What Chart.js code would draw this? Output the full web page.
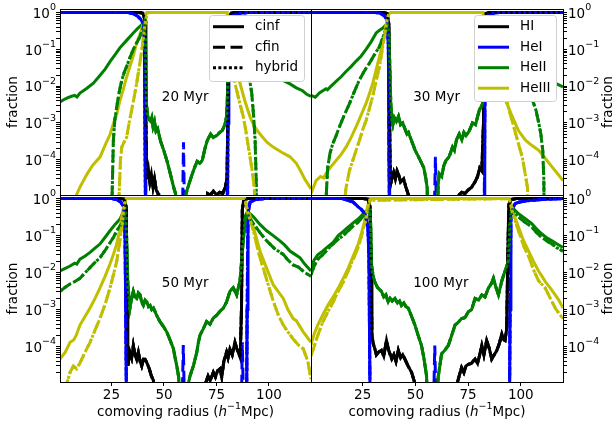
<!DOCTYPE html>
<html>
<head>
<meta charset="utf-8">
<title>Ionization fractions</title>
<script src="https://cdn.jsdelivr.net/npm/chart.js@4"></script>
<style>
  html, body { margin: 0; padding: 0; background: #fff; }
  #wrap { position: relative; width: 614px; height: 422px; }
  #wrap canvas { position: absolute; left: 0; top: 0; }
</style>
</head>
<body>
<div id="wrap">
  <canvas id="c20" width="614" height="422"></canvas>
  <canvas id="c30" width="614" height="422"></canvas>
  <canvas id="c50" width="614" height="422"></canvas>
  <canvas id="c100" width="614" height="422"></canvas>
</div>
<script>
// labels and ticks
const methodLabels = ["cinf", "cfin", "hybrid"];
const speciesLabels = ["HI", "HeI", "HeII", "HeIII"];
const panelTimes = ["20 Myr", "30 Myr", "50 Myr", "100 Myr"];
const xTickValues = [25, 50, 75, 100];
const yTickValues = [1e-4, 1e-3, 1e-2, 1e-1, 1];
const yTickExponents = ["−4", "−3", "−2", "−1", "0"];

// ---- 20 Myr ----  [radius, fraction]
const hi20 = [[0.5,1],[38,1],[40,0.97],[41,0.6],[41.4,1e-3],[41.8,3e-5],[42.6,5.5e-5],[43.3,2.5e-5],[44,4e-5],[44.8,1.8e-5],[45.5,3e-5],[46.3,1.5e-5],[47.2,1.2e-5],[47.6,1e-6],[70.4,1e-6],[70.8,1.2e-5],[72,1.1e-5],[73.5,1.4e-5],[75,1.1e-5],[76.5,1.3e-5],[78,1.2e-5],[79.2,1.8e-5],[80,3e-5],[80.4,1e-3],[80.8,0.7],[82,0.98],[84,1],[120,1]];
const hei20 = [[0.5,1],[33,1],[35.5,0.93],[37.5,0.8],[39,0.65],[40.2,0.5],[40.7,0.1],[41,1e-4],[41.3,1e-6],[80.2,1e-6],[80.5,1e-3],[80.9,0.4],[82,0.75],[84,0.9],[87,0.97],[90,1],[120,1]];
const hei20Fin = [[0.5,1],[33,1],[35.5,0.93],[37.5,0.8],[39,0.65],[40.2,0.5],[40.9,0.1],[41.2,1e-4],[41.5,1e-6],[58.7,1e-6],[59.3,3e-4],[59.9,1e-6],[80,1e-6],[80.3,1e-3],[80.7,0.4],[82,0.75],[84,0.9],[87,0.97],[90,1],[120,1]];
const heii20L = [[0.5,3.7e-3],[2,4.2e-3],[4,4.8e-3],[6,5.3e-3],[7.5,5.6e-3],[8.6,5.1e-3],[10,6.5e-3],[13,8.5e-3],[16.4,1.2e-2],[19,1.8e-2],[22,2.9e-2],[24.4,4.7e-2],[27,7.5e-2],[29,0.11],[32,0.17],[35.4,0.28],[37.5,0.37],[39.5,0.47],[40.6,0.6]];
const heii20FinL = [[0.5,1e-6],[25,1e-6],[25.3,1e-5],[25.9,3.3e-4],[26.6,1.2e-3],[27.5,2.7e-3],[28.7,7e-3],[29.9,1.45e-2],[31,2.3e-2],[32.2,3.4e-2],[33.8,6e-2],[35.4,0.1],[37,0.15],[38.6,0.22],[39.8,0.35],[40.6,0.5]];
const heii20In = [[41.2,0.2],[41.7,3e-3],[42.3,1.5e-3],[43,1.2e-3],[43.6,1.1e-3],[44.2,1.4e-3],[44.8,8e-4],[45.5,1.1e-3],[46.2,6e-4],[47,7e-4],[48.3,3.3e-4],[49.9,1.8e-4],[51.5,9e-5],[53.1,4e-5],[54.7,1.7e-5],[55.5,1.2e-5],[56.2,1e-6],[60,1e-6],[60.5,1.2e-5],[61.8,2.1e-5],[63.4,4e-5],[64.5,6e-5],[65.8,9e-5],[67,8e-5],[68.2,9.5e-5],[69.5,2e-4],[70.6,3.3e-4],[72.2,5e-4],[73.5,4e-4],[75.4,4.7e-4],[76.5,5.5e-4],[77.8,6.3e-4],[79,9e-4],[79.8,1.5e-3],[80.2,5e-3],[80.6,0.1]];
const heii20R = [[81.1,0.45],[83,0.4],[86,0.27],[90,0.16],[94,9e-2],[98,4.5e-2],[102,2.6e-2],[106,1.5e-2],[110,1.15e-2],[113,9e-3],[116,7.5e-3],[118,6e-3],[120,5.3e-3]];
const heii20FinR = [[81.1,0.4],[83,0.3],[85,0.17],[87,8e-2],[89.4,4.3e-2],[90.8,1.5e-2],[91.8,6.3e-3],[92.7,1.5e-3],[93.4,3.3e-4],[93.9,3e-5],[94.2,1e-6],[120,1e-6]];
const heiii20L = [[0.5,1e-6],[7.5,1e-6],[8,1e-5],[10,1.8e-5],[13.3,4e-5],[16,7e-5],[19.6,1.2e-4],[22,2.5e-4],[24.4,5e-4],[26,1e-3],[27.6,1.8e-3],[29,4e-3],[30.6,8e-3],[32,1.6e-2],[33.8,3.4e-2],[35.5,7e-2],[37,0.15],[39,0.3],[40.5,0.6],[41.5,0.95],[42.5,1]];
const heiii20R = [[80,1],[81,0.5],[82.5,0.1],[84,3e-2],[86.2,1.2e-2],[88.5,4e-3],[91,1.45e-3],[93,8e-4],[95.7,5e-4],[99,3e-4],[102,2.2e-4],[106,1.6e-4],[110,1.2e-4],[113,8e-5],[115,5e-5],[117,3e-5],[119.5,1.8e-5],[120,1.6e-5]];
const heiii20FinL = [[0.5,1e-6],[28.2,1e-6],[28.6,1e-5],[29.3,1e-4],[29.9,2.2e-4],[31,3e-4],[32.2,4e-4],[33.4,1e-3],[34.6,2.2e-3],[35.8,5e-3],[37,1.2e-2],[38.3,3.5e-2],[39.5,0.1],[40.5,0.3],[41.4,0.65],[42,1]];
const heiii20FinR = [[80,1],[80.8,0.5],[82,0.1],[83.8,1.2e-2],[85.8,4e-3],[87.8,1.45e-3],[89,6e-4],[90.2,2.2e-4],[91.8,6e-5],[93,1.8e-5],[93.6,1e-6],[120,1e-6]];

// ---- 30 Myr ----
const hi30 = [[0.5,1],[35,1],[36.5,0.95],[37.4,0.5],[37.8,1e-3],[38.1,2e-5],[38.8,3e-5],[39.7,4.5e-5],[40.5,3e-5],[41.3,5e-5],[42,4e-5],[43,2.5e-5],[44.4,3e-5],[45.5,1.8e-5],[46.7,1.1e-5],[47.2,1e-6],[70.2,1e-6],[70.6,1.1e-5],[72,1.3e-5],[73.5,1.2e-5],[75,1.5e-5],[76.7,1.8e-5],[78.3,2.5e-5],[79.5,3.5e-5],[80.5,6e-5],[81.5,5e-5],[82.3,1e-3],[82.8,0.5],[83.5,0.95],[85,1],[120,1]];
const hei30 = [[0.5,1],[31,1],[33.5,0.95],[35.5,0.8],[36.8,0.6],[37.2,0.1],[37.5,1e-4],[37.8,1e-6],[82.6,1e-6],[82.9,1e-3],[83.2,0.5],[84.5,0.85],[87,0.97],[90,1],[120,1]];
const hei30Fin = [[0.5,1],[31,1],[33.5,0.95],[35.5,0.8],[36.8,0.6],[37.2,0.1],[37.5,1e-4],[37.8,1e-6],[58.8,1e-6],[59.5,1.2e-4],[60.2,1e-6],[82.6,1e-6],[82.9,1e-3],[83.2,0.5],[84.5,0.85],[87,0.97],[90,1],[120,1]];
const heii30L = [[0.5,5.6e-3],[2.5,5e-3],[4.5,6.5e-3],[6.1,7.5e-3],[7.6,8.5e-3],[8.3,8e-3],[10,1e-2],[12.4,1.35e-2],[14.8,1.8e-2],[17.1,2.5e-2],[19.5,3.4e-2],[21.9,4.8e-2],[24.2,6.5e-2],[26.6,0.1],[29,0.16],[31.4,0.28],[33,0.33],[34.6,0.38],[35.8,0.45],[36.8,0.5]];
const heii30FinL = [[0.5,1e-6],[7.4,1e-6],[7.7,1e-5],[8.4,6e-5],[9.5,1.5e-4],[10.8,2.7e-4],[12.4,4.5e-4],[14,7.9e-4],[16.4,1.7e-3],[18.8,3.4e-3],[21,7e-3],[23.5,1.5e-2],[26,2.7e-2],[28.3,4.3e-2],[30.5,7e-2],[33,0.12],[35.4,0.28],[36.8,0.45]];
const heii30In = [[37.4,0.3],[37.8,5e-2],[38.3,4e-3],[38.8,1.2e-3],[39.3,9e-4],[40,1.4e-3],[41,1.1e-3],[42,1.5e-3],[43,9e-4],[44,1e-3],[45,7e-4],[46,5e-4],[46.7,5.5e-4],[48,3.5e-4],[49.9,1.8e-4],[51.5,1.2e-4],[53,8e-5],[54,6e-5],[55,3e-5],[55.6,1.7e-5],[56,1e-6],[60.3,1e-6],[60.8,2e-5],[61.3,4.2e-5],[62.5,3.5e-5],[63.5,7e-5],[64.5,9.5e-5],[66,1.2e-4],[67.6,2.2e-4],[68.5,1.8e-4],[69.5,3.5e-4],[70.8,5e-4],[72,3.5e-4],[73,5.5e-4],[74,4.5e-4],[75.5,6e-4],[77.1,1e-3],[78.5,9e-4],[80.3,2.2e-3],[81.9,3.4e-3],[82.6,5e-2]];
const heii30R = [[83.2,0.45],[85,0.35],[88,0.25],[92,0.15],[96,9e-2],[100,5.5e-2],[105,3.2e-2],[110,2e-2],[115,1.3e-2],[120,9.5e-3]];
const heii30FinR = [[83.2,0.4],[86,0.28],[90,0.15],[94,7e-2],[98,3e-2],[101,1.4e-2],[104,6.5e-3],[106,3.5e-3],[107.2,2.2e-3],[108.5,1e-3],[109.5,5e-4],[110.4,1.8e-4],[110.9,3e-5],[111.2,1e-6],[120,1e-6]];
const heiii30L = [[0.5,1.2e-5],[2.9,2.7e-5],[5,3.5e-5],[6.5,3.2e-5],[7.6,4.2e-5],[10,6.5e-5],[12.4,9.5e-5],[14.8,1.4e-4],[17.1,2.2e-4],[19.5,4e-4],[21.9,7.9e-4],[24.2,1.6e-3],[26.6,3.4e-3],[28.3,6.5e-3],[29.8,1.2e-2],[31.4,2.8e-2],[33,6.5e-2],[34.3,0.13],[35.4,0.28],[36.5,0.6],[37.5,0.95],[38.5,1]];
const heiii30R = [[82,1],[83.3,0.5],[85,0.12],[87,4e-2],[90,1.2e-2],[92.7,4.3e-3],[95.9,1.5e-3],[99,6e-4],[102.2,3.4e-4],[105,2.5e-4],[108.5,1.8e-4],[111,1.2e-4],[114.9,6.3e-5],[117,4.5e-5],[120,2.7e-5]];
const heiii30FinL = [[0.5,1e-6],[16,1e-6],[16.5,8e-6],[17.1,1.7e-5],[18.7,5e-5],[20.3,9.5e-5],[21.9,1.8e-4],[23.5,3.4e-4],[25,6.5e-4],[26.7,1.2e-3],[28.3,2.6e-3],[29.8,5.4e-3],[31.4,1.4e-2],[33,3.5e-2],[34.3,0.1],[35.4,0.23],[36.5,0.6],[37.5,1]];
const heiii30FinR = [[82,1],[83.3,0.4],[85,0.1],[88,3e-2],[91.3,1e-2],[94.5,2.2e-3],[97.6,5e-4],[100.8,1.1e-4],[103.2,1.7e-5],[103.6,1e-6],[120,1e-6]];

// ---- 50 Myr ----
const hi50 = [[0.5,1],[29,1],[31,0.97],[32,0.6],[32.4,1e-3],[32.8,3e-5],[33.8,7e-5],[34.6,5e-5],[35.4,1.05e-4],[36.2,6e-5],[37,4.5e-5],[37.8,7e-5],[38.6,4e-5],[39.4,3e-5],[40.2,4.5e-5],[41,4.5e-5],[42,3.5e-5],[43,2.5e-5],[44,1.6e-5],[45,1.2e-5],[45.5,1e-6],[69.5,1e-6],[70,1.1e-5],[71,1.6e-5],[72,1.2e-5],[73.5,2e-5],[74.5,1.5e-5],[75.5,2.2e-5],[76.7,2.5e-5],[77.5,1.5e-5],[78.5,4e-5],[79.8,7e-5],[80.5,5e-5],[81.4,8.5e-5],[82.5,6e-5],[83.8,1.3e-4],[84.6,9e-5],[85.4,7e-5],[86.3,5e-5],[86.9,1e-3],[87.3,0.5],[88,0.95],[90,1],[120,1]];
const hei50 = [[0.5,1],[25,1],[27.5,0.95],[29.5,0.8],[30.8,0.6],[31.4,0.2],[31.8,1e-3],[32.2,1e-6],[89.3,1e-6],[89.6,1e-3],[90,0.4],[91,0.8],[94,0.95],[98,1],[120,1]];
const hei50Fin = [[0.5,1],[25,1],[27.5,0.95],[29.5,0.8],[30.8,0.6],[31.4,0.2],[31.8,1e-3],[32.2,1e-6],[58.5,1e-6],[59.2,1.1e-4],[59.9,1e-6],[86.8,1e-6],[87.3,1.3e-4],[88,1e-6],[89.3,1e-6],[89.6,1e-3],[90,0.4],[91,0.8],[94,0.95],[98,1],[120,1]];
const heii50L = [[0.5,1.1e-2],[3,1.3e-2],[5.3,1.5e-2],[7.5,1.8e-2],[8.5,1.7e-2],[10,2.3e-2],[12.5,2.8e-2],[14.8,3.5e-2],[17,4.5e-2],[19.5,5.9e-2],[22,9e-2],[24.3,0.135],[26.7,0.2],[29.1,0.28],[30.7,0.45],[31.6,0.5]];
const heii50FinL = [[0.5,3.1e-3],[3,4e-3],[5.5,5e-3],[7,5.5e-3],[10,7e-3],[12.5,1e-2],[15,1.4e-2],[17.2,1.9e-2],[19.5,2.5e-2],[22,4e-2],[24,6e-2],[25.9,8.9e-2],[28,0.15],[29.9,0.21],[31.2,0.35],[31.6,0.45]];
const heii50In = [[32.2,0.1],[32.8,5e-3],[33.8,1.1e-3],[34.6,2e-3],[35.4,3.1e-3],[36.2,2.2e-3],[37,2e-3],[37.8,2.8e-3],[38.6,2.5e-3],[39.4,1.6e-3],[40.2,1.3e-3],[41,1.8e-3],[41.8,1.6e-3],[42.6,1.2e-3],[43.4,1.3e-3],[44.2,1e-3],[45,1.1e-3],[46.5,7e-4],[48.1,4.7e-4],[49.7,3.5e-4],[51.3,2.5e-4],[52.9,1.5e-4],[54.5,8.7e-5],[55.3,5e-5],[56.1,3e-5],[57,1.5e-5],[57.6,1e-6],[61,1e-6],[61.6,1e-5],[62.4,1.6e-5],[64,3e-5],[65.6,6.9e-5],[66.4,1.3e-4],[67.1,2e-4],[68.7,3e-4],[70.3,4.7e-4],[71.9,4e-4],[73.5,5.9e-4],[75.1,7e-4],[76.7,9e-4],[78.3,1.1e-3],[79.8,1.6e-3],[81.4,3.1e-3],[83,3.9e-3],[84.6,2.5e-3],[86.2,6e-3],[87.5,5e-2]];
const heii50R = [[88.8,0.35],[89.8,0.45],[92.6,0.32],[95.7,0.2],[98.9,0.135],[102,0.1],[105.2,7.2e-2],[107.5,5.5e-2],[110,3.8e-2],[112,3.2e-2],[114.8,2.5e-2],[117,1.7e-2],[120,1.1e-2]];
const heii50FinR = [[88.8,0.3],[89.8,0.35],[92.6,0.21],[95.7,0.12],[98.9,7.2e-2],[102.5,4.5e-2],[106.8,3.1e-2],[109,2.2e-2],[111.5,1.6e-2],[114,1.4e-2],[117,1e-2],[120,8e-3]];
const heiii50L = [[0.5,4.6e-5],[3,7e-5],[5.3,1.3e-4],[7,1.5e-4],[8.2,2e-4],[10,3.8e-4],[12.4,6.5e-4],[14.8,1.1e-3],[17.2,2e-3],[19.5,3.8e-3],[22,8e-3],[24.3,1.7e-2],[26,3.2e-2],[27.5,5.9e-2],[28.8,0.13],[29.9,0.32],[31,0.7],[32,1]];
const heiii50R = [[88.5,1],[90,0.5],[92.6,0.17],[95.7,3.8e-2],[98.9,1.3e-2],[102,4.7e-3],[104.5,3e-3],[106.8,2e-3],[109,1e-3],[111.5,5.7e-4],[113,5e-4],[116.3,2.5e-4],[120,1.3e-4]];
const heiii50FinL = [[0.5,1e-6],[3.2,1e-6],[3.7,1e-5],[5.3,2e-5],[6.9,3e-5],[8.4,2.5e-5],[10,3.6e-5],[12.4,7e-5],[14.8,1.3e-4],[17.2,2.8e-4],[19.5,5.7e-4],[22,1.4e-3],[24.3,3.8e-3],[26,9e-3],[27.5,2e-2],[28.8,6e-2],[29.9,0.17],[31,0.6],[32,1]];
const heiii50FinR = [[88.5,1],[90,0.4],[92.6,0.135],[95,3.5e-2],[97.3,1.3e-2],[99.5,5e-3],[102,1.7e-3],[104.5,7e-4],[106.8,3.8e-4],[109,2.5e-4],[111.5,1.6e-4],[114,1.1e-4],[116.3,8.7e-5],[118.5,4e-5],[120,1.3e-5]];

// ---- 100 Myr ----
const hi100 = [[0.5,1],[25,1],[27.5,0.97],[28.5,0.6],[29,1e-2],[29.4,2e-4],[30,1.2e-4],[30.7,9e-5],[31.5,6e-5],[32.5,7e-5],[33.9,7.8e-5],[35,5.5e-5],[36.3,1.45e-4],[37.3,8e-5],[38.8,4.6e-5],[39.8,6e-5],[40.8,4e-5],[41.9,7.8e-5],[43,5e-5],[44,6e-5],[45,4.6e-5],[46.5,3e-5],[48.2,2e-5],[49.8,1e-5],[50.2,1e-6],[69.5,1e-6],[70,1.1e-5],[71,1.8e-5],[71.9,2.7e-5],[73,2e-5],[74,3e-5],[75.1,3.3e-5],[76.5,3.5e-5],[78.3,4.6e-5],[79.5,3.5e-5],[80.5,6e-5],[81.5,1.07e-4],[82.5,6e-5],[83.8,1.45e-4],[85,9e-5],[86.2,4.6e-5],[87.4,6e-5],[88.6,7.8e-5],[89.8,1.2e-4],[91,2.2e-4],[92,1.5e-4],[92.5,1.45e-4],[93.3,3e-4],[93.8,2e-2],[94.3,0.7],[95.5,0.95],[98,1],[120,1]];
const hei100 = [[0.5,1],[15,1],[18.1,0.9],[20.5,0.8],[22.9,0.6],[24.5,0.5],[26,0.39],[27.5,0.17],[28,2e-2],[28.3,1e-4],[28.6,1e-6],[94.6,1e-6],[94.9,1e-3],[95.3,0.3],[96.5,0.6],[97.3,0.73],[99,0.8],[102,0.86],[105.2,0.9],[110,0.95],[115,0.98],[120,1]];
const hei100Fin = [[0.5,1],[15,1],[18.1,0.9],[20.5,0.8],[22.9,0.6],[24.5,0.5],[26,0.39],[27.5,0.17],[28,2e-2],[28.3,1e-4],[28.6,1e-6],[58.5,1e-6],[59.2,1.07e-4],[59.9,1e-6],[94.6,1e-6],[94.9,1e-3],[95.3,0.3],[96.5,0.6],[97.3,0.73],[99,0.8],[102,0.86],[105.2,0.9],[110,0.95],[115,0.98],[120,1]];
const heii100L = [[0.5,1.4e-2],[2,2.2e-2],[3.7,3e-2],[6,3.8e-2],[8.5,5e-2],[11,6.5e-2],[13.4,0.1],[15.8,0.13],[18.1,0.17],[20.5,0.22],[22.9,0.28],[24.5,0.35],[26,0.43],[27.5,0.5],[28.4,0.5]];
const heii100FinL = [[0.5,8.7e-3],[2,1.5e-2],[3.7,2.3e-2],[6,3e-2],[8.5,4.3e-2],[11,6e-2],[13.4,8e-2],[15.8,0.1],[18.1,0.135],[20.5,0.18],[22.9,0.23],[24.5,0.3],[26,0.37],[27.5,0.45],[28.4,0.48]];
const heii100In = [[28.8,0.2],[29.2,1.6e-2],[30,8e-3],[30.7,5.7e-3],[32,4e-3],[33.9,3.1e-3],[35,2.2e-3],[36,2.5e-3],[37.1,1.6e-3],[38,2e-3],[39,1.7e-3],[40.3,2e-3],[41.5,1.5e-3],[42.5,1.7e-3],[43.4,1.3e-3],[44.5,1.5e-3],[45.5,1.2e-3],[46.6,1.1e-3],[48,7e-4],[49.8,3.8e-4],[51.3,2e-4],[52.9,1.07e-4],[54,5e-5],[55.3,1.6e-5],[55.8,1e-6],[60,1e-6],[60.8,1.5e-5],[61.6,3e-5],[62.4,6.3e-5],[64,8e-5],[65.6,1.07e-4],[67.2,2e-4],[68.8,3.8e-4],[70.3,4.5e-4],[71.9,5.7e-4],[73.5,6e-4],[75.1,8.7e-4],[76.7,1e-3],[78.3,2e-3],[80,1.8e-3],[81.5,2.5e-3],[83,2.2e-3],[84.6,3.8e-3],[86,5e-3],[87,7e-3],[88.2,4e-3],[89.4,2.5e-3],[91,6e-3],[92.5,1.1e-2],[94.1,2e-2],[94.8,0.2]];
const heii100R = [[95.7,0.6],[97,0.5],[98.9,0.39],[102,0.29],[105.2,0.21],[107.5,0.15],[110,0.11],[112.5,8.5e-2],[114.8,7.2e-2],[117,6e-2],[120,4.8e-2]];
const heii100FinR = [[95.7,0.5],[97,0.42],[98.9,0.32],[102,0.23],[105.2,0.17],[107.5,0.12],[110,8.9e-2],[112.5,7e-2],[114.8,5.9e-2],[117,4.7e-2],[120,3.8e-2]];
const heiii100L = [[0.5,1.1e-4],[2,2.2e-4],[3.7,3.8e-4],[6,7e-4],[8.5,1.3e-3],[11,2.2e-3],[13.4,3.8e-3],[15.8,7e-3],[18.1,1.3e-2],[20.5,2.8e-2],[22.9,5.9e-2],[24.5,0.12],[26,0.26],[27.3,0.6],[28.4,1]];
const heiii100R = [[94.5,1],[95.7,0.6],[97.3,0.3],[98.9,0.17],[101,8e-2],[103.7,3.8e-2],[106,2e-2],[108.4,1.1e-2],[110,8e-3],[111.6,5.7e-3],[114,3.8e-3],[116.3,2.5e-3],[118,1.8e-3],[120,1.1e-3]];
const heiii100FinL = [[0.5,5.6e-5],[2,1e-4],[3.7,2e-4],[6,4.5e-4],[8.5,8.7e-4],[11,1.6e-3],[13.4,3.1e-3],[15.8,5.5e-3],[18.1,1.1e-2],[20.5,2.3e-2],[22.9,4.8e-2],[24.5,0.1],[26,0.21],[27.3,0.5],[28.4,0.9]];
const heiii100FinR = [[94.5,1],[95.7,0.5],[97.3,0.25],[98.9,0.135],[101.5,5e-2],[104,2.5e-2],[106,1.2e-2],[108.4,6e-3],[111.6,3.8e-3],[114,2e-3],[116.3,1.1e-3],[118,8e-4],[120,5.7e-4]];

// styles
const FONT_FAMILY = "'DejaVu Sans', 'Liberation Sans', sans-serif";
const FONT_SIZE = 13.5;
const SUP_SIZE = 9.5;
const speciesColors = ["#000000", "#0000ff", "#008000", "#bfbf00"];
const methodDash = [[], [12, 5.5], [3, 2.3]];
const Y_MIN = 1.1e-5, Y_MAX = 1.25;

Chart.defaults.font.family = FONT_FAMILY;
Chart.defaults.font.size = FONT_SIZE;
Chart.defaults.color = "#000";

// all tick marks on the log axis (majors + minors)
const yTickMarks = yTickValues.slice();
for (let k = -5; k <= -1; k++) {
    for (let m = 2; m <= 9; m++) {
        const v = m * Math.pow(10, k);
        if (v > Y_MIN && v < Y_MAX) yTickMarks.push(v);
    }
}

function toPoints(pairs) {
    return pairs.map(p => ({ x: p[0], y: p[1] }));
}

// curves[method][species]
function buildDatasets(curves) {
    const sets = [];
    curves.forEach((row, m) => {
        row.forEach((pairs, s) => {
            sets.push({
                label: methodLabels[m] + " " + speciesLabels[s],
                data: toPoints(pairs),
                borderColor: speciesColors[s],
                borderWidth: 3,
                borderDash: methodDash[m],
                pointRadius: 0,
                tension: 0,
                fill: false,
                clip: 0,
                order: -sets.length
            });
        });
    });
    return sets;
}

function font(size, style) {
    return (style ? style + " " : "") + size + "px " + FONT_FAMILY;
}

// text pieces: {t, italic, sup}; drawn left to right on baseline y
function drawRich(ctx, parts, x, y, align) {
    const widths = parts.map(p => {
        ctx.font = font(p.sup ? SUP_SIZE : FONT_SIZE, p.italic ? "oblique" : "");
        return ctx.measureText(p.t).width;
    });
    const total = widths.reduce((s, w) => s + w, 0);
    let cx = align === "right" ? x - total : align === "center" ? x - total / 2 : x;
    ctx.textAlign = "left";
    ctx.textBaseline = "alphabetic";
    parts.forEach((p, i) => {
        ctx.font = font(p.sup ? SUP_SIZE : FONT_SIZE, p.italic ? "oblique" : "");
        ctx.fillText(p.t, cx, p.sup ? y - p.sup : y);
        cx += widths[i];
    });
}

function roundRectPath(ctx, x, y, w, h, r) {
    ctx.beginPath();
    ctx.moveTo(x + r, y);
    ctx.arcTo(x + w, y, x + w, y + h, r);
    ctx.arcTo(x + w, y + h, x, y + h, r);
    ctx.arcTo(x, y + h, x, y, r);
    ctx.arcTo(x, y, x + w, y, r);
    ctx.closePath();
}

function drawLegend(ctx, area, items) {
    ctx.font = font(FONT_SIZE);
    const textW = Math.max(...items.map(it => ctx.measureText(it.label).width));
    const w = 46 + textW + 6;
    const h = 4 + items.length * 20.6;
    const x0 = Math.round(area.right - 7 - w);
    const y0 = Math.round(area.top + 6);
    roundRectPath(ctx, x0 + 0.5, y0 + 0.5, Math.round(w), Math.round(h), 3);
    ctx.globalAlpha = 1;
    ctx.fillStyle = "#ffffff";
    ctx.fill();
    ctx.strokeStyle = "#d0d0d0";
    ctx.lineWidth = 1;
    ctx.stroke();
    items.forEach((it, i) => {
        const y = y0 + 11.7 + i * 20.5;
        ctx.beginPath();
        ctx.setLineDash(it.dash);
        ctx.strokeStyle = it.color;
        ctx.lineWidth = 3;
        ctx.moveTo(x0 + 4, y);
        ctx.lineTo(x0 + 35, y);
        ctx.stroke();
        ctx.setLineDash([]);
        ctx.fillStyle = "#000";
        ctx.font = font(FONT_SIZE);
        ctx.textAlign = "left";
        ctx.textBaseline = "middle";
        ctx.fillText(it.label, x0 + 46, y);
    });
}

// frame, tick labels, time label, legend and axis titles
const panelDeco = {
    id: "panelDeco",
    afterDraw(chart, args, opts) {
        const { ctx, chartArea: a, scales } = chart;
        ctx.save();
        ctx.setLineDash([]);
        ctx.strokeStyle = "#000";
        ctx.lineWidth = 1;
        ctx.strokeRect(Math.round(a.left) + 0.5, Math.round(a.top) + 0.5,
            Math.round(a.right - a.left), Math.round(a.bottom - a.top));

        ctx.fillStyle = "#000";
        // y tick labels as 10^n
        yTickValues.forEach((v, i) => {
            const py = scales.y.getPixelForValue(v);
            const parts = [{ t: "10" }, { t: yTickExponents[i], sup: 7.5 }];
            if (opts.rightAxis) drawRich(ctx, parts, a.right + 5, py + 5.3, "left");
            else drawRich(ctx, parts, a.left - 4, py + 5.3, "right");
        });

        // x axis title
        if (opts.xTitle) {
            drawRich(ctx, [
                { t: "comoving radius (" }, { t: "h", italic: true },
                { t: "−1", sup: 7 }, { t: "Mpc)" }
            ], (a.left + a.right) / 2, 416, "center");
        }

        ctx.font = font(FONT_SIZE);
        ctx.textAlign = "left";
        ctx.textBaseline = "middle";
        ctx.fillText(opts.label, scales.x.getPixelForValue(49), scales.y.getPixelForValue(5e-3));

        if (opts.rightAxis) {
            ctx.save();
            ctx.translate(a.right + 45, (a.top + a.bottom) / 2);
            ctx.rotate(-Math.PI / 2);
            ctx.textAlign = "center";
            ctx.fillText("fraction", 0, 0);
            ctx.restore();
        }
        if (opts.legend) drawLegend(ctx, a, opts.legend);
        ctx.restore();
    }
};

function yAxis(position) {
    return {
        type: "logarithmic",
        position: position,
        min: Y_MIN,
        max: Y_MAX,
        bounds: "data",
        afterBuildTicks: s => { s.ticks = yTickMarks.map(v => ({ value: v })); },
        afterFit: s => {
            s.width = position === "left" ? 60 : 51;
            s.paddingTop = 0;
            s.paddingBottom = 0;
        },
        ticks: { autoSkip: false, padding: 2, callback: () => "" },
        grid: { drawOnChartArea: false, tickLength: 4, color: "#000" },
        border: { display: false },
        title: {
            display: position === "left",
            text: "fraction",
            padding: { top: 5, bottom: 0 }
        }
    };
}

function xAxis(show) {
    return {
        type: "linear",
        min: 0.5,
        max: 120,
        bounds: "data",
        display: show,
        afterBuildTicks: s => { s.ticks = xTickValues.map(v => ({ value: v })); },
        afterFit: s => {
            s.height = show ? 40 : 0;
            s.paddingLeft = 0;
            s.paddingRight = 0;
        },
        ticks: { autoSkip: false, maxRotation: 0, padding: 1, callback: v => String(v) },
        grid: { drawOnChartArea: false, tickLength: 4, color: "#000" },
        border: { display: false },
        title: { display: false }
    };
}

const methodLegend = methodLabels.map((l, i) => ({ label: l, color: "#000", dash: methodDash[i] }));
const speciesLegend = speciesLabels.map((l, i) => ({ label: l, color: speciesColors[i], dash: [] }));

const panels = [
    {
        id: "c20", label: panelTimes[0], yPos: "left", xShow: false, legend: methodLegend,
        pad: { left: 0, top: 9, right: 303, bottom: 227 },
        curves: [
            [hi20, hei20, [...heii20L, ...heii20In, ...heii20R], [...heiii20L, ...heiii20R]],
            [hi20, hei20Fin, [...heii20FinL, ...heii20In, ...heii20FinR], [...heiii20FinL, ...heiii20FinR]],
            [hi20, hei20, [...heii20FinL, ...heii20In, ...heii20FinR], [...heiii20FinL, ...heiii20FinR]]
        ]
    },
    {
        id: "c30", label: panelTimes[1], yPos: "right", xShow: false, legend: speciesLegend,
        pad: { left: 311, top: 9, right: 0, bottom: 227 },
        curves: [
            [hi30, hei30, [...heii30L, ...heii30In, ...heii30R], [...heiii30L, ...heiii30R]],
            [hi30, hei30Fin, [...heii30FinL, ...heii30In, ...heii30FinR], [...heiii30FinL, ...heiii30FinR]],
            [hi30, hei30, [...heii30FinL, ...heii30In, ...heii30FinR], [...heiii30FinL, ...heiii30FinR]]
        ]
    },
    {
        id: "c50", label: panelTimes[2], yPos: "left", xShow: true, legend: null,
        pad: { left: 0, top: 195, right: 303, bottom: 0 },
        curves: [
            [hi50, hei50, [...heii50L, ...heii50In, ...heii50R], [...heiii50L, ...heiii50R]],
            [hi50, hei50Fin, [...heii50FinL, ...heii50In, ...heii50FinR], [...heiii50FinL, ...heiii50FinR]],
            [hi50, hei50, [...heii50FinL, ...heii50In, ...heii50FinR], [...heiii50FinL, ...heiii50FinR]]
        ]
    },
    {
        id: "c100", label: panelTimes[3], yPos: "right", xShow: true, legend: null,
        pad: { left: 311, top: 195, right: 0, bottom: 0 },
        curves: [
            [hi100, hei100, [...heii100L, ...heii100In, ...heii100R], [...heiii100L, ...heiii100R]],
            [hi100, hei100Fin, [...heii100FinL, ...heii100In, ...heii100FinR], [...heiii100FinL, ...heiii100FinR]],
            [hi100, hei100, [...heii100FinL, ...heii100In, ...heii100FinR], [...heiii100FinL, ...heiii100FinR]]
        ]
    }
];

panels.forEach(p => {
    new Chart(document.getElementById(p.id), {
        type: "line",
        data: { datasets: buildDatasets(p.curves) },
        options: {
            responsive: false,
            animation: false,
            devicePixelRatio: 1,
            layout: { padding: p.pad },
            scales: { x: xAxis(p.xShow), y: yAxis(p.yPos) },
            plugins: {
                legend: { display: false },
                tooltip: { enabled: false },
                panelDeco: {
                    label: p.label,
                    legend: p.legend,
                    rightAxis: p.yPos === "right",
                    xTitle: p.xShow
                }
            }
        },
        plugins: [panelDeco]
    });
});
</script>
</body>
</html>
